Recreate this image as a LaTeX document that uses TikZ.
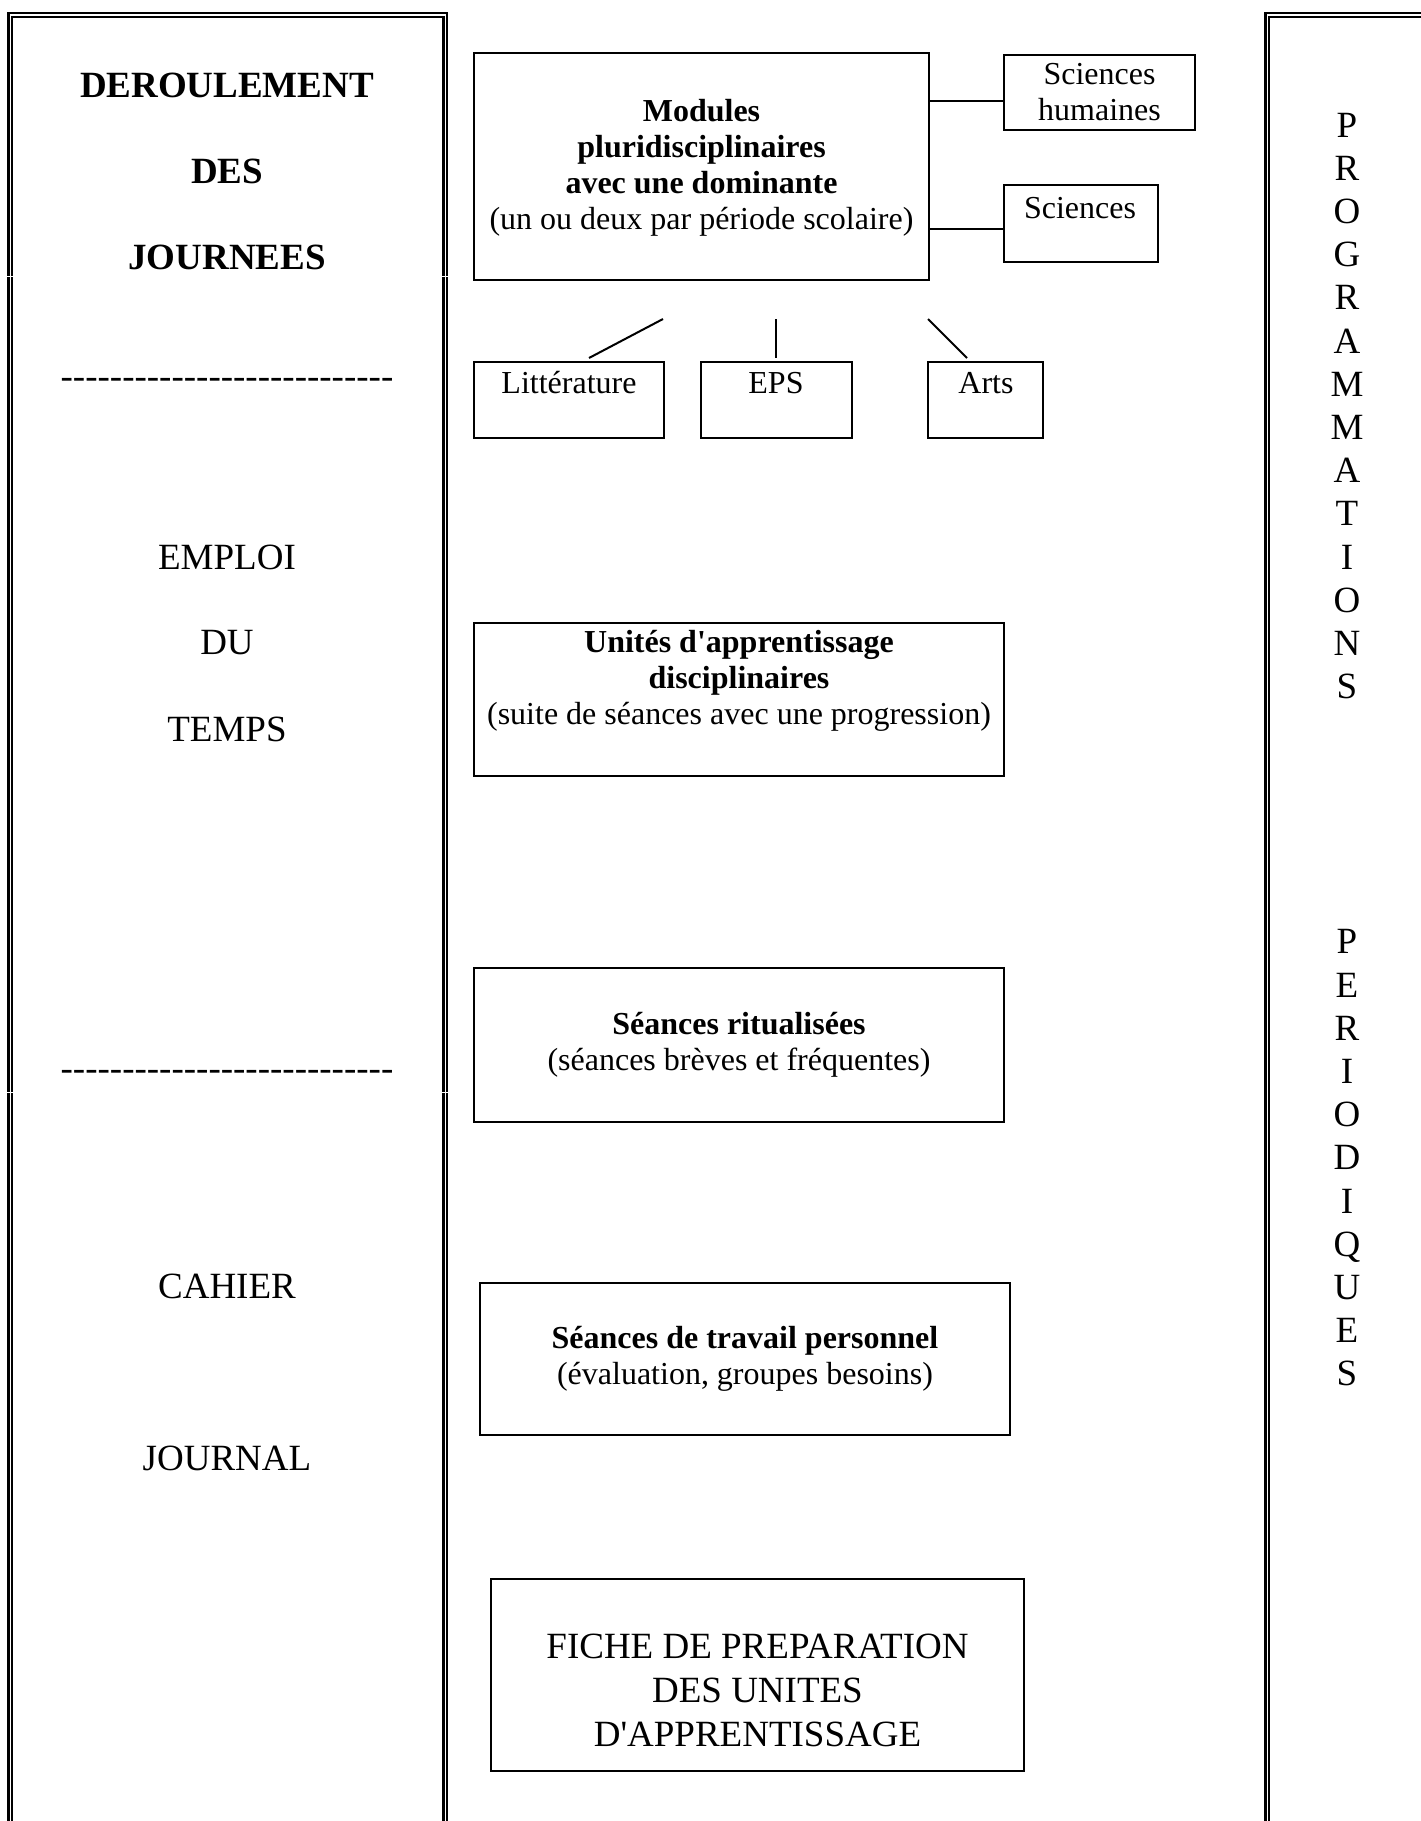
\documentclass[tikz,border=0pt]{standalone}
\usepackage{fontspec}
\newfontfamily\tnr{Liberation Serif}
\def\dsh{-\kern0pt}
\def\dshthree{\dsh\dsh\dsh}
\def\dshnine{\dshthree\dshthree\dshthree}
\begin{document}
\tnr
\begin{tikzpicture}[x=0.5pt,y=-0.5pt,
  frame/.style={line width=1.25pt},
  box/.style={draw,line width=1pt,rectangle,inner sep=0pt},
  conn/.style={line width=1pt},
  txt/.style={font=\tnr\fontsize{16pt}{18pt}\selectfont,align=center,inner sep=0pt},
  big/.style={font=\tnr\fontsize{18.5pt}{22pt}\selectfont,align=center,inner sep=0pt},
  bigb/.style={font=\tnr\bfseries\fontsize{18.5pt}{22pt}\selectfont,align=center,inner sep=0pt},
  col/.style={font=\tnr\fontsize{18.5pt}{21.6pt}\selectfont,align=center,inner sep=0pt}]
\useasboundingbox (0,0) rectangle (1420,1821);
% left panel (double frame, open at bottom)
\draw[frame] (8.7,276.2) -- (8.7,13.2) -- (447.2,13.2) -- (447.2,276.2);
\draw[frame] (12.2,276.2) -- (12.2,17) -- (443.5,17) -- (443.5,276.2);
\draw[frame] (8.7,277.2) -- (8.7,1092.2) (447.2,277.2) -- (447.2,1092.2);
\draw[frame] (12.2,277.2) -- (12.2,1092.2) (443.5,277.2) -- (443.5,1092.2);
\draw[frame] (8.7,1093.2) -- (8.7,1825) (447.2,1093.2) -- (447.2,1825);
\draw[frame] (12.2,1093.2) -- (12.2,1825) (443.5,1093.2) -- (443.5,1825);
% right panel
\draw[frame] (1265.3,1825) -- (1265.3,13.2) -- (1425,13.2);
\draw[frame] (1268.8,1825) -- (1268.8,17) -- (1425,17);
% left texts
\node[bigb] (t1) at (227,85) {DEROULEMENT};
\node[bigb] (t2) at (227,171) {DES};
\node[bigb] (t3) at (227,257) {JOURNEES};
\node[big] (d1) at (227,383) {\dshnine\dshnine\dshnine};
\node[big] (t4) at (227,557) {EMPLOI};
\node[big] (t5) at (227,643) {DU};
\node[big] (t6) at (227,729) {TEMPS};
\node[big] (d2) at (227,1075) {\dshnine\dshnine\dshnine};
\node[big] (t7) at (227,1286) {CAHIER};
\node[big] (t8) at (227,1458) {JOURNAL};
% right column texts
\node[col] (prog) at (1347,406) {P\\R\\O\\G\\R\\A\\M\\M\\A\\T\\I\\O\\N\\S};
\node[col] (peri) at (1347,1158) {P\\E\\R\\I\\O\\D\\I\\Q\\U\\E\\S};
% boxes
\node[box,minimum width=227.5pt,minimum height=113.5pt] (mod) at (701.5,166.5) {};
\node[txt] (modt) at (701.5,167.5) {\textbf{Modules}\\\textbf{pluridisciplinaires}\\\textbf{avec une dominante}\\(un ou deux par période scolaire)};
\node[box,minimum width=95.5pt,minimum height=37.5pt] (sh) at (1099.5,92.5) {};
\node[txt] (sht) at (1099.5,92.5) {Sciences\\humaines};
\node[box,minimum width=77pt,minimum height=38.5pt] (sci) at (1081,223.5) {};
\node[txt] (scit) at (1080,208) {Sciences};
\node[box,minimum width=95pt,minimum height=38pt] (lit) at (569,400) {};
\node[txt] (litt) at (569,383) {Littérature};
\node[box,minimum width=75.5pt,minimum height=38pt] (eps) at (776.5,400) {};
\node[txt] (epst) at (776,383) {EPS};
\node[box,minimum width=57.5pt,minimum height=38pt] (arts) at (985.5,400) {};
\node[txt] (artst) at (986,383) {Arts};
\node[box,minimum width=265pt,minimum height=76.5pt] (uni) at (739,699.5) {};
\node[txt] (unit) at (739,681) {\textbf{Unités d'apprentissage}\\\textbf{disciplinaires}\\(suite de séances avec une progression)};
\node[box,minimum width=265pt,minimum height=77pt] (rit) at (739,1045) {};
\node[txt] (ritt) at (739,1045) {\textbf{Séances ritualisées}\\(séances brèves et fréquentes)};
\node[box,minimum width=265pt,minimum height=76pt] (trav) at (745,1359) {};
\node[txt] (travt) at (745,1358.5) {\textbf{Séances de travail personnel}\\(évaluation, groupes besoins)};
\node[box,minimum width=266.5pt,minimum height=96pt] (fiche) at (757.5,1675) {};
\node[big] (fichet) at (757.5,1690) {FICHE DE PREPARATION\\DES UNITES\\D'APPRENTISSAGE};
% connectors
\coordinate (c1) at ([yshift=-4.25pt]sh.west);
\coordinate (c2) at ([yshift=-2.75pt]sci.west);
\draw[conn] (c1) -- (c1 -| mod.east);
\draw[conn] (c2) -- (c2 -| mod.east);
\coordinate (s1a) at (663,319);
\coordinate (s1b) at (589,358);
\coordinate (s2a) at (776,319);
\coordinate (s2b) at (776,358);
\coordinate (s3a) at (928,319);
\coordinate (s3b) at (967,358);
\draw[conn] (s1a) -- (s1b);
\draw[conn] (s2a) -- (s2b);
\draw[conn] (s3a) -- (s3b);
\end{tikzpicture}
\end{document}
